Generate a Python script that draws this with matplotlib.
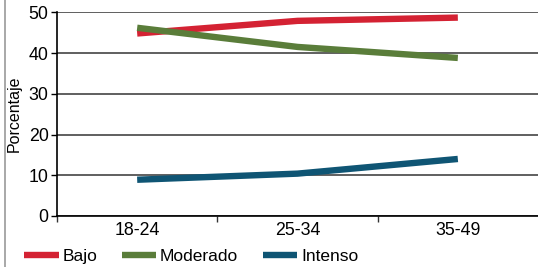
import matplotlib
matplotlib.use("Agg")
import matplotlib.pyplot as plt
from matplotlib.lines import Line2D

plt.rcParams['font.family'] = ['Liberation Sans', 'DejaVu Sans']

# data
categories = ['18-24', '25-34', '35-49']
bajo = [44.8, 47.9, 48.7]
moderado = [46.2, 41.5, 38.8]
intenso = [8.9, 10.4, 14.0]

series = [('Bajo', bajo, '#D42233'),
          ('Moderado', moderado, '#5A7D3A'),
          ('Intenso', intenso, '#0F5574')]

fig = plt.figure(figsize=(5.38, 2.67), dpi=100, facecolor='white')
ax = fig.add_axes([57/538, 1 - 216/267, 1 - 57/538, (216 - 12.3)/267])

x = range(len(categories))
for name, vals, col in series:
    ax.plot(x, vals, color=col, linewidth=4.6, label=name,
            solid_capstyle='butt', solid_joinstyle='round', zorder=3)

ax.set_xlim(-0.5, 2.5)
ax.set_ylim(0, 50)
ax.set_yticks([0, 10, 20, 30, 40, 50])
ax.set_xticks(list(x))
ax.set_xticklabels(categories)
ax.set_xticks([-0.5, 0.5, 1.5], minor=True)
ax.tick_params(axis='x', which='major', length=0, labelsize=12.8, pad=4)
ax.tick_params(axis='x', which='minor', length=4, width=1, color='#333333')
ax.tick_params(axis='y', length=4, width=1, labelsize=12.8, pad=2)

ax.grid(axis='y', color='#444444', linewidth=1.2)
ax.set_axisbelow(True)
for s in ['top', 'right']:
    ax.spines[s].set_visible(False)
ax.spines['left'].set_linewidth(1.2)
ax.spines['bottom'].set_linewidth(1.2)

ax.set_ylabel('Porcentaje', fontsize=11.5)
ax.yaxis.set_label_coords(-0.073, 0.5)

ax.legend(loc='lower left', bbox_to_anchor=(-0.069, -0.235), ncol=3, frameon=False,
          fontsize=12.5, handlelength=2.0, handletextpad=0.22, columnspacing=1.4,
          borderaxespad=0, borderpad=0)

# left border of the panel
fig.add_artist(Line2D([4.5/538, 4.5/538], [0, 1], transform=fig.transFigure,
                      color='#999999', linewidth=1.2))

fig.savefig('out.png', dpi=100, facecolor='white')
